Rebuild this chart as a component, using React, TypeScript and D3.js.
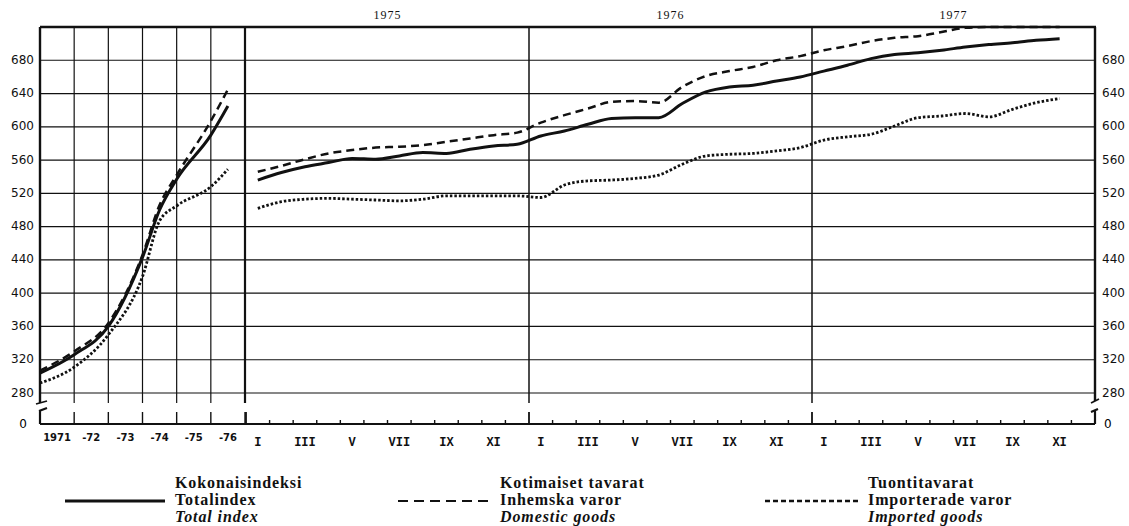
import React from 'react';
import * as d3 from 'd3';

// annual panel (1971-1976), positions in fractional years
const annualT = [1971, 1972, 1973, 1974, 1974.5, 1975, 1976, 1976.5];
const annualTotal = [304, 326, 360, 443, 500, 537, 590, 625];
const annualDomestic = [307, 330, 364, 446, 506, 542, 607, 645];
const annualImported = [292, 311, 350, 420, 487, 505, 528, 549];
const annualLabels = ['1971', '-72', '-73', '-74', '-75', '-76'];

// monthly panel, Jan 1975 .. Nov 1977
const monthlyTotal = [536, 545, 552, 557, 562, 561, 565, 569, 568, 573, 577, 579,
  589, 595, 603, 610, 611, 611, 628, 642, 648, 650, 655, 660,
  667, 674, 682, 687, 689, 692, 696, 699, 701, 704, 706];
const monthlyDomestic = [546, 553, 561, 568, 572, 575, 576, 578, 582, 586, 590, 593,
  605, 614, 622, 630, 631, 629, 648, 661, 667, 672, 680, 685,
  692, 697, 703, 707, 709, 714, 719, 720, 720, 720, 720];
const monthlyImported = [502, 510, 513, 514, 513, 512, 511, 513, 517, 517, 517, 517,
  515, 530, 535, 536, 538, 542, 555, 565, 567, 568, 571, 575,
  584, 588, 591, 601, 611, 613, 616, 612, 621, 629, 634];
const years = ['1975', '1976', '1977'];
const monthLabels = ['I', '', 'III', '', 'V', '', 'VII', '', 'IX', '', 'XI', ''];
const yTicks = [280, 320, 360, 400, 440, 480, 520, 560, 600, 640, 680];

const legend = [
  { lines: ['Kokonaisindeksi', 'Totalindex', 'Total index'], dash: 'none', w: 3 },
  { lines: ['Kotimaiset tavarat', 'Inhemska varor', 'Domestic goods'], dash: '10,6', w: 2.2 },
  { lines: ['Tuontitavarat', 'Importerade varor', 'Imported goods'], dash: '5,3', w: 2.4 },
];

const W = 1129;
const H = 526;
const left = 40;
const right = 1095;
const top = 27;
const gridBottom = 403;
const axisY = 424;

export default function App() {
  const y = d3.scaleLinear().domain([280, 720]).range([393, top]);
  const xA = d3.scaleLinear().domain([1971, 1977]).range([left, 245]);
  const xM = d3.scaleLinear().domain([0, 36]).range([246, right]);

  const lineA = d3.line<number>()
    .x((_, i) => xA(annualT[i]))
    .y(d => y(d))
    .curve(d3.curveMonotoneX);
  const lineM = d3.line<number>()
    .x((_, i) => xM(i + 0.5))
    .y(d => y(Math.min(d, 720)))
    .curve(d3.curveMonotoneX);

  const series = [
    { a: annualTotal, m: monthlyTotal, dash: 'none', w: 3 },
    { a: annualDomestic, m: monthlyDomestic, dash: '8,5', w: 2.5 },
    { a: annualImported, m: monthlyImported, dash: '2.5,2', w: 2.8 },
  ];

  const sans = 'DejaVu Sans, sans-serif';
  const serif = 'Liberation Serif, serif';

  return (
    <svg width={W} height={H} style={{ position: 'absolute', left: 0, top: 0, background: '#fff' }}>
      {/* horizontal grid */}
      {yTicks.map(t => (
        <line key={t} x1={left} x2={right} y1={y(t)} y2={y(t)} stroke="#111" strokeWidth={1.2} />
      ))}
      {/* annual verticals */}
      {d3.range(1972, 1977).map(t => (
        <line key={t} x1={xA(t)} x2={xA(t)} y1={top} y2={gridBottom} stroke="#111" strokeWidth={1.2} />
      ))}
      <line x1={xA(1977)} x2={xA(1977)} y1={top} y2={gridBottom} stroke="#111" strokeWidth={2.2} />
      {[12, 24].map(m => (
        <line key={m} x1={xM(m)} x2={xM(m)} y1={top} y2={gridBottom} stroke="#111" strokeWidth={1.5} />
      ))}
      {/* frame */}
      <line x1={left} x2={right + 1} y1={top} y2={top} stroke="#111" strokeWidth={2.4} />
      <line x1={left} x2={left} y1={top} y2={gridBottom} stroke="#111" strokeWidth={2.4} />
      <line x1={right} x2={right} y1={top} y2={gridBottom - 2} stroke="#111" strokeWidth={2.4} />
      {/* axis breaks */}
      <path d={`M${left - 4},${gridBottom + 1} L${left + 7},${gridBottom - 2}`} stroke="#111" strokeWidth={1.8} />
      <path d={`M${left - 1},${gridBottom + 8} L${left + 7},${gridBottom + 5} M${left},${gridBottom + 7} L${left},${axisY}`} stroke="#111" strokeWidth={2.2} fill="none" />
      <path d={`M${right - 4},${gridBottom} L${right + 4},${gridBottom - 4}`} stroke="#111" strokeWidth={1.8} />
      <path d={`M${right - 4},${gridBottom + 9} L${right + 3},${gridBottom + 6} M${right},${gridBottom + 7} L${right},${axisY}`} stroke="#111" strokeWidth={2.2} fill="none" />
      {/* bottom axis */}
      <line x1={left} x2={right} y1={axisY} y2={axisY} stroke="#111" strokeWidth={2.2} />
      {d3.range(1971, 1978).map(t => (
        <line key={t} x1={xA(t)} x2={xA(t)} y1={axisY - 12} y2={axisY} stroke="#111" strokeWidth={1.4} />
      ))}
      {d3.range(0, 37).map(m => (
        <line key={m} x1={xM(m)} x2={xM(m)} y1={axisY - (m % 12 === 0 ? 12 : 4)} y2={axisY}
          stroke="#111" strokeWidth={m % 12 === 0 ? 1.8 : 1.4} />
      ))}
      {/* y labels */}
      {yTicks.map(t => (
        <g key={t} fontFamily={sans} fontSize={12} fill="#111">
          <text x={34} y={y(t)} textAnchor="end" dominantBaseline="middle">{t}</text>
          <text x={1102} y={y(t)} dominantBaseline="middle">{t}</text>
        </g>
      ))}
      <text x={27} y={axisY} textAnchor="end" dominantBaseline="middle" fontFamily={sans} fontSize={12}>0</text>
      <text x={1104} y={axisY} dominantBaseline="middle" fontFamily={sans} fontSize={12}>0</text>
      {/* x labels */}
      {annualLabels.map((l, i) => (
        <text key={l} x={xA(1971 + i + 0.5)} y={441} textAnchor="middle" fontFamily={sans}
          fontWeight="bold" fontSize={10} fill="#111">{l}</text>
      ))}
      {years.map((yr, k) => (
        <g key={yr}>
          <text x={xM(k * 12 + 6)} y={19} textAnchor="middle" fontFamily={serif} fontSize={12}
            letterSpacing={1} fill="#111">{yr}</text>
          {monthLabels.map((ml, j) => ml ? (
            <text key={j} x={xM(k * 12 + j + 0.5)} y={446} textAnchor="middle" fontFamily="Liberation Mono, monospace"
              fontWeight="bold" fontSize={12} fill="#111">{ml}</text>
          ) : null)}
        </g>
      ))}
      {/* series */}
      {series.map((s, i) => (
        <g key={i} fill="none" stroke="#111" strokeWidth={s.w} strokeDasharray={s.dash}>
          <path d={lineA(s.a) || ''} />
          <path d={lineM(s.m) || ''} />
        </g>
      ))}
      {/* legend */}
      {legend.map((g, i) => {
        const x0 = [65, 398, 765][i];
        const tx = [175, 500, 868][i];
        return (
          <g key={i}>
            <line x1={x0} x2={tx - 10} y1={501} y2={501} stroke="#111" strokeWidth={g.w} strokeDasharray={g.dash} />
            {g.lines.map((ln, j) => (
              <text key={j} x={tx} y={488 + j * 17} fontFamily={serif} fontSize={16} letterSpacing={0.9}
                fontStyle={j === 2 ? 'italic' : 'normal'} fontWeight="bold" fill="#111">{ln}</text>
            ))}
          </g>
        );
      })}
    </svg>
  );
}
